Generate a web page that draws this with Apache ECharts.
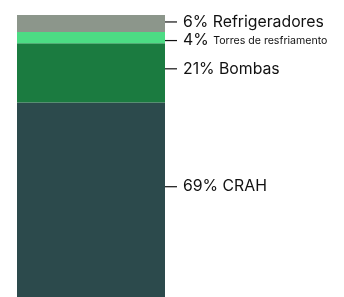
<!DOCTYPE html>
<html>
<head>
<meta charset="utf-8">
<script src="https://cdn.jsdelivr.net/npm/echarts@6/dist/echarts.min.js"></script>
<style>
  html, body { margin: 0; padding: 0; background: #fff; }
  #main { width: 344px; height: 297px; }
</style>
</head>
<body>
<div id="main"></div>
<script>
// bottom to top
var names = ['CRAH', 'Bombas', 'Torres de resfriamento', 'Refrigeradores'];
var values = [69, 21, 4, 6];
var colors = ['#2c4a4c', '#1b7b40', '#4cdc84', '#8c968b'];
var labelOffsets = [-13, -4, 3, -1.5];

var chartDom = document.getElementById('main');
var myChart = echarts.init(chartDom);
var option;

var series = names.map(function (name, i) {
  var small = name === 'Torres de resfriamento';
  return {
    name: name,
    type: 'bar',
    stack: 'total',
    barWidth: '100%',
    data: [values[i]],
    itemStyle: { color: colors[i] },
    label: {
      show: true,
      position: 'right',
      distance: 0,
      offset: [0, labelOffsets[i]],
      formatter: '{l|}{g|}{t|' + values[i] + '% }' + (small ? '{s|' + name + '}' : '{t|' + name + '}'),
      rich: {
        l: { width: 12, height: 1.2, backgroundColor: '#111' },
        g: { width: 6 },
        t: { fontFamily: 'Inter', fontSize: 15.8, color: '#111' },
        s: { fontFamily: 'Inter', fontSize: 10.6, color: '#111' }
      }
    }
  };
});

option = {
  animation: false,
  grid: { left: 17, right: 179, top: 15, bottom: 0 },
  xAxis: { type: 'category', data: [''], show: false },
  yAxis: { type: 'value', min: 0, max: 100, show: false },
  series: series
};

option && myChart.setOption(option);
</script>
</body>
</html>
